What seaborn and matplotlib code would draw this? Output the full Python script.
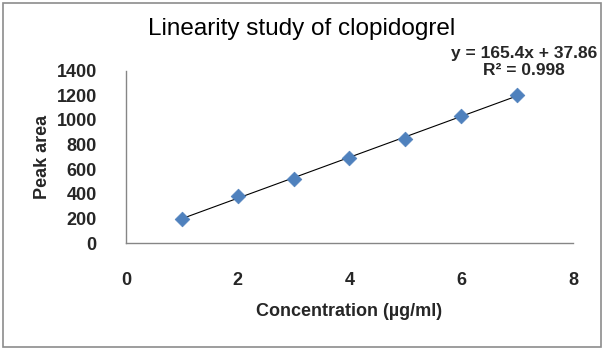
import matplotlib
matplotlib.use("Agg")
import matplotlib.pyplot as plt
from matplotlib.patches import Rectangle
import seaborn as sns
import pandas as pd

# Data
concentration = [1, 2, 3, 4, 5, 6, 7]
peak_area = [195, 384, 519, 692, 849, 1030, 1206]
x_ticks = [0, 2, 4, 6, 8]
y_ticks = [0, 200, 400, 600, 800, 1000, 1200, 1400]
title = "Linearity study of clopidogrel"
x_label = "Concentration (µg/ml)"
y_label = "Peak area"
equation_text = "y = 165.4x + 37.86\nR² = 0.998"

sns.set_style("white")
plt.rcParams["font.family"] = ["Liberation Sans", "DejaVu Sans"]

df = pd.DataFrame({"conc": concentration, "area": peak_area})

fig = plt.figure(figsize=(6.04, 3.5), dpi=100)
ax = fig.add_axes([126 / 604, 1 - 243 / 350, (573 - 126) / 604, (243 - 70.7) / 350])

sns.regplot(data=df, x="conc", y="area", ax=ax, ci=None, truncate=True,
            marker="D",
            scatter_kws=dict(s=56, color="#4F81BD", edgecolors="#4F81BD", linewidths=0.5,
                             alpha=1, zorder=3),
            line_kws=dict(color="black", lw=0.8, zorder=2))

ax.set_xlim(0, 8)
ax.set_ylim(0, 1400)
ax.set_xticks(x_ticks)
ax.set_yticks(y_ticks)
ax.set_xticklabels([str(v) for v in x_ticks], fontsize=13, fontweight="bold")
ax.set_yticklabels([str(v) for v in y_ticks], fontsize=13, fontweight="bold")
ax.tick_params(axis="both", length=0)
ax.tick_params(axis="x", pad=21)
ax.tick_params(axis="y", pad=21)

ax.set_xlabel(x_label, fontsize=13, fontweight="bold", labelpad=10)
ax.set_ylabel(y_label, fontsize=13, fontweight="bold", labelpad=4)

for side in ["top", "right"]:
    ax.spines[side].set_visible(False)
for side in ["left", "bottom"]:
    ax.spines[side].set_color("#868686")
    ax.spines[side].set_linewidth(1.0)

fig.text(302 / 604, 1 - 29 / 350, title, ha="center", va="center", fontsize=17.5,
         color="black")

fig.text(524 / 604, 1 - 62 / 350, equation_text, ha="center", va="center",
         fontsize=12.5, fontweight="bold", linespacing=1.1)

fig.patches.append(Rectangle((2.5 / 604, 3 / 350), (601 - 2.5) / 604, (347 - 3) / 350,
                             transform=fig.transFigure, fill=False,
                             edgecolor="#8c8c8c", linewidth=1.2))

fig.savefig("out.png", dpi=100)
